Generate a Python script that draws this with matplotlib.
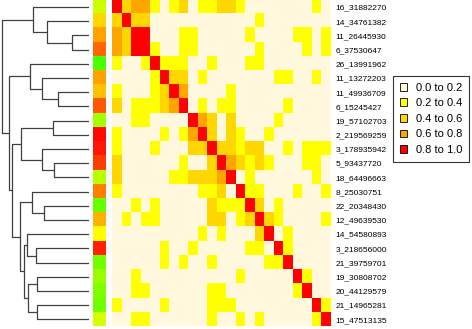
import numpy as np
import matplotlib
matplotlib.use("Agg")
import matplotlib.pyplot as plt
from matplotlib.colors import ListedColormap, BoundaryNorm, LinearSegmentedColormap
from matplotlib.patches import Patch

plt.rcParams['font.family'] = ['Liberation Sans', 'DejaVu Sans']

# SNP labels, top to bottom
snps = ["16_31882270", "14_34761382", "11_26445930", "6_37530647", "26_13991962",
        "11_13272203", "11_49936709", "6_15245427", "19_57102703", "2_219569259",
        "3_178935942", "5_93437720", "18_64496663", "8_25030751", "22_20348430",
        "12_49639530", "14_54580893", "3_218656000", "21_39759701", "19_30808702",
        "20_44129579", "21_14965281", "15_47513135"]

# LD class per pair (0: 0.0-0.2, 1: 0.2-0.4, 2: 0.4-0.6, 3: 0.6-0.8, 4: 0.8-1.0)
ld_class = [
    [4,2,3,3,1,0,1,2,0,1,1,2,2,1,0,0,0,0,0,0,0,1,0],
    [2,4,2,2,0,0,0,0,0,0,0,0,0,0,0,1,0,0,0,0,0,0,0],
    [3,2,4,4,0,0,0,1,1,0,0,0,0,0,1,0,0,0,0,1,1,0,1],
    [3,2,4,4,1,0,0,1,1,0,0,0,0,0,0,1,0,0,0,0,1,0,1],
    [1,0,0,1,4,1,1,1,0,0,1,0,0,0,1,1,0,0,0,0,0,0,0],
    [0,0,0,0,1,4,2,2,0,1,0,0,0,0,0,0,0,1,1,0,0,1,0],
    [1,0,0,0,1,2,4,3,0,0,0,0,1,0,0,0,0,0,0,0,0,0,0],
    [2,0,1,1,1,2,3,4,0,1,0,1,1,0,0,0,0,0,1,0,0,0,0],
    [0,0,1,1,0,0,0,0,4,3,2,0,2,0,0,0,0,1,0,0,0,0,0],
    [1,0,0,0,0,1,0,1,3,4,2,0,2,1,0,0,1,0,0,0,0,0,0],
    [1,0,0,0,1,0,0,0,2,2,4,2,2,1,2,2,0,0,1,0,1,1,1],
    [2,0,0,0,0,0,0,1,0,0,2,4,3,2,1,2,1,0,0,0,1,1,0],
    [2,0,0,0,0,0,1,1,2,2,2,3,4,0,1,0,0,0,0,0,0,1,0],
    [1,0,0,0,0,0,0,0,0,1,1,2,0,4,1,1,0,0,0,1,0,0,1],
    [0,0,1,0,1,0,0,0,0,0,2,1,1,1,4,2,0,1,0,0,0,0,0],
    [0,1,0,1,1,0,0,0,0,0,2,2,0,1,2,4,2,1,0,0,0,0,1],
    [0,0,0,0,0,0,0,0,0,1,0,1,0,0,0,2,4,0,1,0,0,0,0],
    [0,0,0,0,0,1,0,0,1,0,0,0,0,0,1,1,0,4,1,0,0,0,0],
    [0,0,0,0,0,1,0,1,0,0,1,0,0,0,0,0,1,1,4,0,0,0,0],
    [0,0,1,0,0,0,0,0,0,0,0,0,0,1,0,0,0,0,0,4,1,0,0],
    [0,0,1,1,0,0,0,0,0,0,1,1,0,0,0,0,0,0,0,1,4,0,0],
    [1,0,0,0,0,1,0,0,0,0,1,1,1,0,0,0,0,0,0,0,0,4,1],
    [0,0,1,1,0,0,0,0,0,0,1,0,0,1,0,1,0,0,0,0,0,1,4],
]

# side colour bar value per SNP (0 = green, 1 = red)
side_vals = [0.40, 0.58, 0.68, 0.80, 0.15, 0.68, 0.62, 0.83, 0.32, 0.98, 0.95, 0.88,
             0.36, 0.75, 0.20, 0.65, 0.50, 0.93, 0.22, 0.30, 0.25, 0.22, 0.42]

# dendrogram merges: (child a, child b, height); ids >= 23 are earlier merges
merges = [
    (2, 3, 0.19), (1, 23, 0.485), (0, 24, 0.64),
    (6, 7, 0.36), (5, 26, 0.54), (4, 27, 0.675),
    (8, 9, 0.415), (11, 12, 0.40), (10, 30, 0.54), (29, 31, 0.78),
    (14, 15, 0.52), (13, 33, 0.65),
    (17, 18, 0.61), (16, 35, 0.71),
    (19, 20, 0.59), (21, 22, 0.60), (37, 38, 0.70),
    (36, 39, 0.75), (34, 40, 0.79), (32, 41, 0.88), (28, 42, 0.92), (25, 43, 1.0),
]

legend_labels = ["0.0 to 0.2", "0.2 to 0.4", "0.4 to 0.6", "0.6 to 0.8", "0.8 to 1.0"]
ld_colors = ["#FFF8DC", "#FFFF00", "#FFD700", "#FFA500", "#FF0000"]

W, H = 472, 329
fig = plt.figure(figsize=(W / 100, H / 100), dpi=100)
n = len(snps)
top, bot = 0, 326.5

def box(x0, x1):
    return [x0 / W, 1 - bot / H, (x1 - x0) / W, (bot - top) / H]

# heatmap
ax = fig.add_axes(box(111.7, 330.2))
cmap = ListedColormap(ld_colors)
norm = BoundaryNorm(np.arange(-0.5, 5.5, 1), cmap.N)
ax.imshow(np.array(ld_class), cmap=cmap, norm=norm, aspect='auto', interpolation='nearest')
ax.set_xticks([])
ax.set_yticks(range(n))
ax.set_yticklabels(snps, fontsize=6)
ax.yaxis.tick_right()
ax.tick_params(axis='y', length=0, pad=4)
for s in ax.spines.values():
    s.set_visible(False)

# side colour bar
axs = fig.add_axes(box(93, 106))
side_cmap = LinearSegmentedColormap.from_list("gyr", ["#00FF00", "#FFFF00", "#FF0000"])
axs.imshow(np.array(side_vals)[:, None], cmap=side_cmap, vmin=0, vmax=1,
           aspect='auto', interpolation='nearest')
axs.axis('off')

# dendrogram
axd = fig.add_axes(box(0, 89))
pos = {i: (float(i), 0.0) for i in range(n)}
for k, (a, b, h) in enumerate(merges):
    ya, ha = pos[a]
    yb, hb = pos[b]
    axd.plot([ha, h, h, hb], [ya, ya, yb, yb], color='#404040', lw=0.9,
             solid_capstyle='butt')
    pos[n + k] = ((ya + yb) / 2, h)
axd.set_ylim(n - 0.5, -0.5)
axd.set_xlim(89 / 87.3, 0)
axd.axis('off')

# legend
handles = [Patch(facecolor=c, edgecolor='black', linewidth=0.6) for c in ld_colors]
leg = fig.legend(handles, legend_labels, loc='upper left',
                 bbox_to_anchor=(393 / W, 1 - 76 / H), fontsize=8, frameon=True,
                 fancybox=False, edgecolor='black', handlelength=0.7, handleheight=0.7,
                 handletextpad=0.8, labelspacing=0.5, borderpad=0.6, borderaxespad=0)
leg.get_frame().set_linewidth(0.8)

fig.savefig("out.png", dpi=100)
